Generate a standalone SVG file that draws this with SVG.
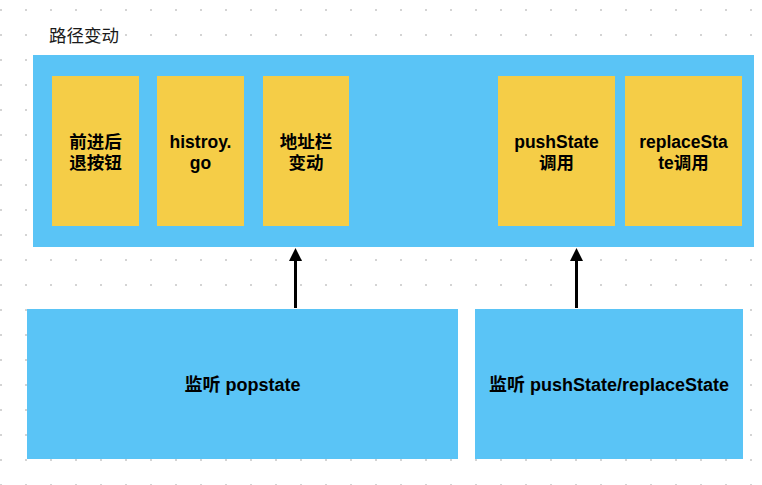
<svg xmlns="http://www.w3.org/2000/svg" width="762" height="485" viewBox="0 0 762 485">
<defs>
<pattern id="dots" patternUnits="userSpaceOnUse" x="0" y="0" width="25" height="25">
<rect x="0" y="9" width="2" height="2" fill="#d4d4d4"/>
</pattern>
<marker id="arrow" markerUnits="userSpaceOnUse" markerWidth="13" markerHeight="13" refX="9" refY="6.5" orient="auto">
<path d="M0,0 L13,6.5 L0,13 z" fill="#000"/>
</marker>
</defs>
<style>
.blue{fill:#5AC4F6}
.yellow{fill:#F5CD47}
.t{font-family:"Liberation Sans","Noto Sans CJK SC",sans-serif;font-weight:bold;font-size:17.5px;fill:#000;text-anchor:middle}
.b{font-family:"Liberation Sans","Noto Sans CJK SC",sans-serif;font-weight:bold;font-size:18px;fill:#000;text-anchor:middle}
.title{font-family:"Liberation Sans","Noto Sans CJK SC",sans-serif;font-size:17.5px;fill:#1a1a1a}
.conn{stroke:#000;stroke-width:3;fill:none}
</style>
<rect width="762" height="485" fill="#fff"/>
<rect width="762" height="485" fill="url(#dots)"/>
<g id="container">
<text class="title" x="49" y="42">路径变动</text>
<rect class="blue" x="33" y="55" width="721" height="192"/>
</g>
<g id="node-back-forward">
<rect class="yellow" x="52" y="76" width="87" height="150"/>
<text class="t" x="95.5" y="147.5">前进后</text>
<text class="t" x="95.5" y="168.5">退按钮</text>
</g>
<g id="node-history-go">
<rect class="yellow" x="157" y="76" width="87" height="150"/>
<text class="t" x="200.5" y="147.5">histroy.</text>
<text class="t" x="200.5" y="168.5">go</text>
</g>
<g id="node-address">
<rect class="yellow" x="263" y="76" width="86" height="150"/>
<text class="t" x="306" y="147.5">地址栏</text>
<text class="t" x="306" y="168.5">变动</text>
</g>
<g id="node-pushstate">
<rect class="yellow" x="498" y="76" width="117" height="150"/>
<text class="t" x="556.5" y="147.5">pushState</text>
<text class="t" x="556.5" y="168.5">调用</text>
</g>
<g id="node-replacestate">
<rect class="yellow" x="625" y="76" width="117" height="150"/>
<text class="t" x="683.5" y="147.5">replaceSta</text>
<text class="t" x="683.5" y="168.5">te调用</text>
</g>
<g id="node-listen-popstate">
<rect class="blue" x="27" y="309" width="431" height="150"/>
<text class="b" x="242.5" y="391">监听 popstate</text>
</g>
<g id="node-listen-push">
<rect class="blue" x="475" y="309" width="268" height="150"/>
<text class="b" x="609" y="391">监听 pushState/replaceState</text>
</g>
<g id="connectors">
<line class="conn" x1="295.5" y1="308" x2="295.5" y2="252" marker-end="url(#arrow)"/>
<line class="conn" x1="576.5" y1="308" x2="576.5" y2="252" marker-end="url(#arrow)"/>
</g>
</svg>
